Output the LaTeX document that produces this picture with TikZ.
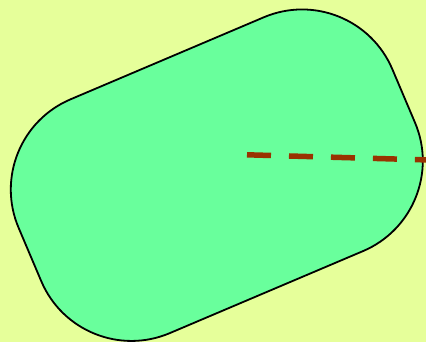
\documentclass[tikz,border=0pt]{standalone}
\usetikzlibrary{calc}
\definecolor{bgcol}{RGB}{230,255,154}
\definecolor{shapecol}{RGB}{105,255,156}
\definecolor{dashcol}{RGB}{153,51,0}
\tikzset{
  pill/.style={draw=black, line width=1.8pt, fill=shapecol, rounded corners=98pt,
    minimum width=406pt, minimum height=254pt, inner sep=0pt, outer sep=0pt, rotate=23},
  redline/.style={draw=dashcol, line width=5.5pt, dash pattern=on 24pt off 18pt}
}
\begin{document}
\begin{tikzpicture}[x=1pt,y=-1pt]
\fill[bgcol] (0,0) rectangle (426,342);
\useasboundingbox (0,0) rectangle (426,342);
\clip (0,0) rectangle (426,342);
\node[pill] (shape) at (216.8,175.2) {};
\coordinate (start) at (247,154.8);
\coordinate (finish) at (440,160.3);
\draw[redline] (start) -- (finish);
\end{tikzpicture}
\end{document}
